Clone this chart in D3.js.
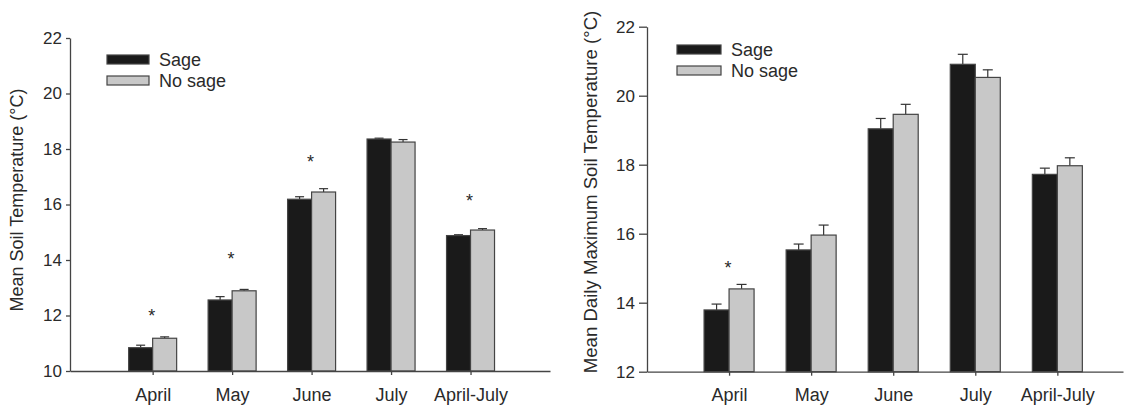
<!DOCTYPE html>
<html>
<head>
<meta charset="utf-8">
<script src="https://cdn.jsdelivr.net/npm/d3@7"></script>
<style>
  body { margin: 0; background: #fff; }
  svg text { font-family: "Liberation Sans", Arial, sans-serif; fill: #2a2a2a; }
</style>
</head>
<body>
<div id="chart"></div>
<script>
// categories
var months = ['April', 'May', 'June', 'July', 'April-July'];
var seriesNames = ['Sage', 'No sage'];

// left panel: mean soil temperature
var meanSage = [10.84, 12.56, 16.19, 18.36, 14.88];
var meanSageErr = [0.09, 0.12, 0.09, 0.03, 0.03];
var meanNoSage = [11.18, 12.89, 16.45, 18.25, 15.08];
var meanNoSageErr = [0.05, 0.05, 0.12, 0.09, 0.05];
var meanStars = [12.13, 14.18, 17.7, null, 16.3];
var meanTicks = [10, 12, 14, 16, 18, 20, 22];

// right panel: mean daily maximum soil temperature
var maxSage = [13.79, 15.53, 19.04, 20.91, 17.72];
var maxSageErr = [0.17, 0.17, 0.3, 0.29, 0.18];
var maxNoSage = [14.4, 15.96, 19.46, 20.53, 17.97];
var maxNoSageErr = [0.13, 0.29, 0.29, 0.22, 0.23];
var maxStars = [15.14, null, null, null, null];
var maxTicks = [12, 14, 16, 18, 20, 22];

var colors = ['#1a1a1a', '#c8c8c8'];

var svg = d3.select('#chart')
    .append('svg')
        .attr('width', 1124)
        .attr('height', 406);

function drawPanel(cfg) {
  var g = svg.append('g');

  var x = d3.scaleLinear()
      .domain(cfg.xDomain)
      .range([cfg.left, cfg.right]);
  var y = d3.scaleLinear()
      .domain(cfg.yDomain)
      .range([cfg.bottom, cfg.top]);

  // y axis
  var yAxis = g.append('g')
      .attr('transform', 'translate(' + cfg.left + ',0)')
      .call(d3.axisLeft(y)
          .tickValues(cfg.ticks)
          .tickSize(cfg.tickLen)
          .tickSizeOuter(0)
          .tickPadding(cfg.tickPad));
  yAxis.selectAll('text')
      .style('font-size', '17px');

  // bars
  var series = [
    {vals: cfg.a, errs: cfg.aErr},
    {vals: cfg.b, errs: cfg.bErr}
  ];
  series.forEach(function(s, si) {
    var sg = g.append('g');
    var bx = function(i) {
      return x(i) - cfg.barW + si * cfg.barW;
    };
    // error bars
    sg.selectAll('line.err')
        .data(s.vals)
        .enter()
        .append('line')
            .attr('x1', function(d, i) { return bx(i) + cfg.barW / 2; })
            .attr('x2', function(d, i) { return bx(i) + cfg.barW / 2; })
            .attr('y1', function(d) { return y(d); })
            .attr('y2', function(d, i) { return y(d + s.errs[i]); })
            .attr('stroke', '#333')
            .attr('stroke-width', 1.2);
    sg.selectAll('line.cap')
        .data(s.vals)
        .enter()
        .append('line')
            .attr('x1', function(d, i) { return bx(i) + cfg.barW / 2 - cfg.capW / 2; })
            .attr('x2', function(d, i) { return bx(i) + cfg.barW / 2 + cfg.capW / 2; })
            .attr('y1', function(d, i) { return y(d + s.errs[i]); })
            .attr('y2', function(d, i) { return y(d + s.errs[i]); })
            .attr('stroke', '#333')
            .attr('stroke-width', 1.2);
    sg.selectAll('rect')
        .data(s.vals)
        .enter()
        .append('rect')
            .attr('x', function(d, i) { return bx(i); })
            .attr('y', function(d) { return y(d); })
            .attr('width', cfg.barW)
            .attr('height', function(d) { return y(cfg.yDomain[0]) - y(d); })
            .attr('fill', colors[si])
            .attr('stroke', '#444')
            .attr('stroke-width', 1.2);
  });

  // x axis
  var xAxis = g.append('g')
      .attr('transform', 'translate(0,' + cfg.bottom + ')')
      .call(d3.axisBottom(x)
          .tickValues(d3.range(months.length))
          .tickFormat(function(i) { return months[i]; })
          .tickSize(4)
          .tickSizeOuter(0)
          .tickPadding(13));
  xAxis.selectAll('text')
      .style('font-size', '18px');

  [yAxis, xAxis].forEach(function(ax) {
    ax.select('.domain').attr('stroke', '#444').attr('stroke-width', 1.3);
    ax.selectAll('.tick line').attr('stroke', '#444').attr('stroke-width', 1.3);
    ax.selectAll('text').attr('fill', '#2a2a2a');
  });

  // significance stars
  g.selectAll('text.star')
      .data(cfg.stars)
      .enter()
      .filter(function(d) { return d !== null; })
      .append('text')
          .attr('class', 'star')
          .attr('x', function(d) { return x(cfg.stars.indexOf(d)) - 1; })
          .attr('y', function(d) { return y(d); })
          .attr('dy', '0.58em')
          .style('text-anchor', 'middle')
          .style('font-size', '18px')
          .text('*');

  // y title
  g.append('text')
      .attr('transform', 'translate(' + cfg.titleX + ',' + cfg.titleY + ') rotate(-90)')
      .style('text-anchor', 'middle')
      .style('font-size', cfg.titleSize + 'px')
      .text(cfg.title);

  // legend
  var lg = g.append('g');
  seriesNames.forEach(function(name, i) {
    lg.append('rect')
        .attr('x', cfg.legX)
        .attr('y', cfg.legY + i * cfg.legStep)
        .attr('width', cfg.legW)
        .attr('height', 9)
        .attr('fill', colors[i])
        .attr('stroke', '#444')
        .attr('stroke-width', 1.2);
    lg.append('text')
        .attr('x', cfg.legX + cfg.legW + 10)
        .attr('y', cfg.legY + i * cfg.legStep + 4.5)
        .attr('dy', '0.35em')
        .style('font-size', '18px')
        .text(name);
  });
}

drawPanel({
  left: 70, right: 550, top: 38, bottom: 371,
  xDomain: [-1.04, 5], yDomain: [10, 22], ticks: meanTicks,
  tickLen: 4, tickPad: 4, barW: 24, capW: 9,
  a: meanSage, aErr: meanSageErr, b: meanNoSage, bErr: meanNoSageErr,
  stars: meanStars,
  title: 'Mean Soil Temperature (°C)', titleX: 23, titleY: 200, titleSize: 18,
  legX: 107, legY: 55, legStep: 21, legW: 42
});

drawPanel({
  left: 647, right: 1123, top: 26.7, bottom: 371.7,
  xDomain: [-1, 4.8], yDomain: [12, 22], ticks: maxTicks,
  tickLen: 8, tickPad: 4, barW: 25, capW: 10,
  a: maxSage, aErr: maxSageErr, b: maxNoSage, bErr: maxNoSageErr,
  stars: maxStars,
  title: 'Mean Daily Maximum Soil Temperature (°C)', titleX: 597, titleY: 192, titleSize: 18.6,
  legX: 677, legY: 45, legStep: 21, legW: 44
});
</script>
</body>
</html>
